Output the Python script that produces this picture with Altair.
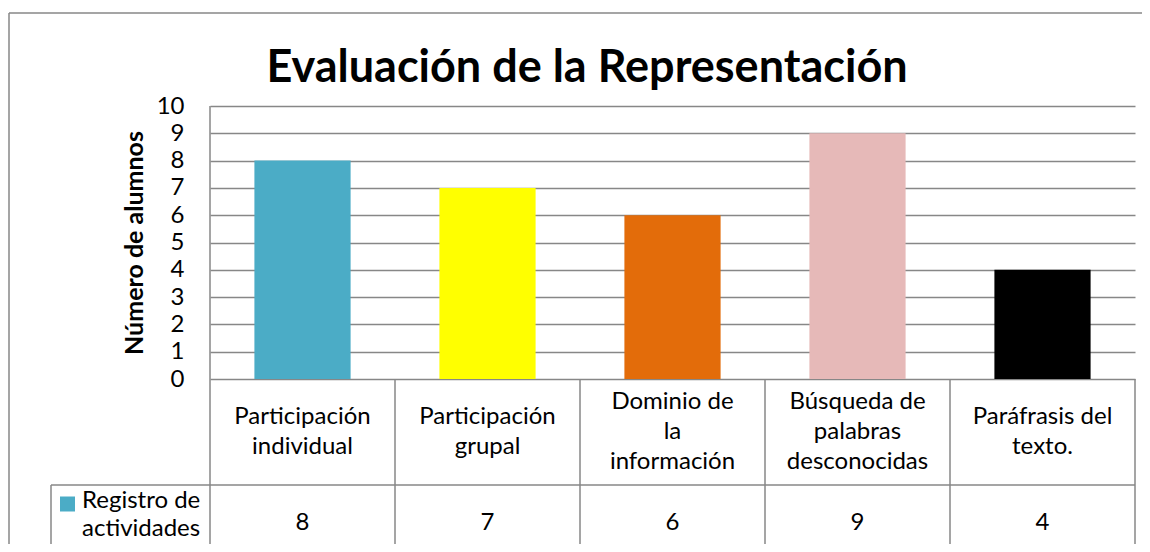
import altair as alt
import pandas as pd

# ---- data ----
categories = ["Participación individual", "Participación grupal", "Dominio de la información",
              "Búsqueda de palabras desconocidas", "Paráfrasis del texto."]
cat_labels = ["Participación\nindividual", "Participación\ngrupal", "Dominio de\nla\ninformación",
              "Búsqueda de\npalabras\ndesconocidas", "Paráfrasis del\ntexto."]
values = [8, 7, 6, 9, 4]
bar_colors = ["#4BACC6", "#FFFF00", "#E36C0A", "#E6B9B8", "#000000"]
series_name = "Registro de\nactividades"
series_color = "#4BACC6"
chart_title = "Evaluación de la Representación"
y_title = "Número de alumnos"
y_ticks = list(range(0, 11))
boundaries = list(range(0, 6))

df = pd.DataFrame({"cat": categories, "label": cat_labels, "value": values, "color": bar_colors})
df["nlines"] = df["label"].str.count("\n") + 1
bdf = pd.DataFrame({"k": boundaries[1:]})
one = pd.DataFrame({"name": [series_name], "color": [series_color], "title": [chart_title]})

W, H = 925, 273
FONT = "Lato"
LINE = "#878787"
LH = 30
ROW_MID = 326  # middle of the header row, in plot pixels
PAD_R = 7

xscale = alt.Scale(domain=categories, paddingInner=0.48, paddingOuter=0.24)
xenc = alt.X("cat:N", scale=xscale, sort=categories, axis=None)

bars = alt.Chart(df).mark_bar().encode(
    x=xenc,
    y=alt.Y("value:Q", scale=alt.Scale(domain=[0, 10]),
            axis=alt.Axis(values=y_ticks, grid=True, gridColor=LINE, gridWidth=1.5,
                          domain=False, ticks=False, labelFontSize=24, labelFont=FONT,
                          labelColor="black", labelPadding=26, title=y_title,
                          titleFont=FONT, titleFontSize=25, titleFontWeight="bold",
                          titleColor="black", titlePadding=9)),
    color=alt.Color("color:N", scale=None),
)

# table: category labels (block centred in the header row) and values
def header_layer(n):
    return alt.Chart(df).transform_filter(alt.datum.nlines == n).mark_text(
        font=FONT, fontSize=24, lineBreak="\n", lineHeight=LH, baseline="middle", color="black"
    ).encode(x=xenc, y=alt.value(ROW_MID - (n - 1) * LH / 2), text="label:N")

head2 = header_layer(2)
head3 = header_layer(3)
val_text = alt.Chart(df).mark_text(font=FONT, fontSize=24, baseline="middle", color="black").encode(
    x=xenc, y=alt.value(417), text="value:Q")

# table structure lines (quantitative scale over the category steps)
qx = alt.Scale(domain=[0, 5])
vlines = alt.Chart(bdf).mark_rule(color=LINE, strokeWidth=1.5).encode(
    x=alt.X("k:Q", scale=qx, axis=None), y=alt.value(H), y2=alt.value(450))
left_line = alt.Chart(one).mark_rule(color=LINE, strokeWidth=1.5).encode(
    x=alt.value(0), y=alt.value(0), y2=alt.value(450))
hline = alt.Chart(one).mark_rule(color=LINE, strokeWidth=1.5).encode(
    x=alt.value(-159), x2=alt.value(W), y=alt.value(379))
legend_left = alt.Chart(one).mark_rule(color=LINE, strokeWidth=1.5).encode(
    x=alt.value(-159), y=alt.value(379), y2=alt.value(450))

# legend cell
swatch = alt.Chart(one).mark_square(size=225, opacity=1).encode(
    x=alt.value(-142.5), y=alt.value(398), color=alt.Color("color:N", scale=None))
legend_text = alt.Chart(one).mark_text(font=FONT, fontSize=24, lineBreak="\n", lineHeight=28,
                                       align="left", baseline="middle", color="black").encode(
    x=alt.value(-128), y=alt.value(395), text="name:N")

# outer frame (top and left edges visible; the rest lies beyond the picture)
frame_top = alt.Chart(one).mark_rule(color=LINE, strokeWidth=1.5).encode(
    x=alt.value(-201), x2=alt.value(W + PAD_R), y=alt.value(-93))
frame_left = alt.Chart(one).mark_rule(color=LINE, strokeWidth=1.5).encode(
    x=alt.value(-201), y=alt.value(-93), y2=alt.value(450))

# title
title_text = alt.Chart(one).mark_text(font=FONT, fontSize=45, fontWeight="bold",
                                      baseline="alphabetic", align="center", color="black").encode(
    x=alt.value(377), y=alt.value(-24), text="title:N")

chart = alt.layer(
    frame_top, frame_left, bars, vlines, left_line, hline, legend_left, head2, head3, val_text,
    swatch, legend_text, title_text
).resolve_scale(x="independent").properties(
    width=W, height=H,
    autosize=alt.AutoSizeParams(type="none"),
    padding={"left": 202, "top": 98, "right": PAD_R, "bottom": 165},
).configure_view(strokeWidth=0)

chart.save("out.html", embed_options={"renderer": "svg", "actions": False})
